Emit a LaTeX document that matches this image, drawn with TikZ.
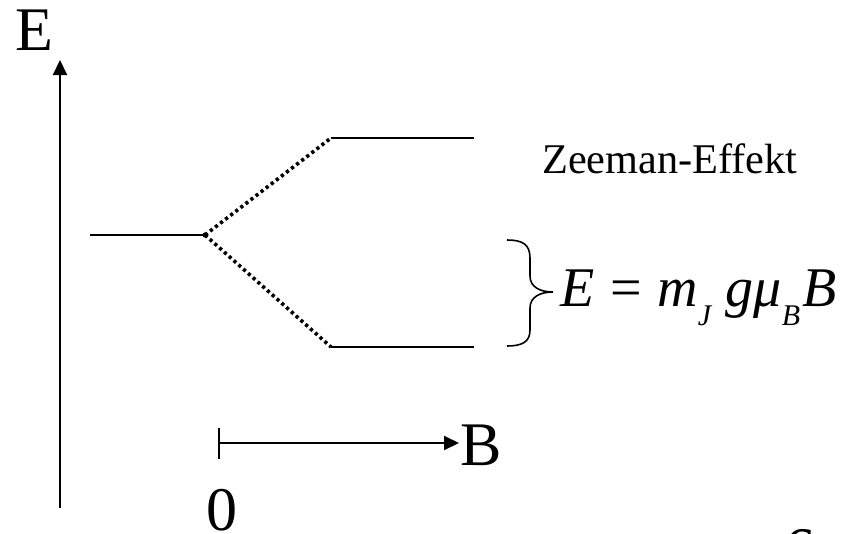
\documentclass[tikz,border=0pt]{standalone}
\usepackage{fontspec}
\setmainfont{Liberation Serif}
\usetikzlibrary{arrows.meta}
\begin{document}
\begin{tikzpicture}[x=1pt,y=-1pt,
  axis/.style={line width=2pt,-{Triangle[length=15pt,width=14pt]}},
  level/.style={line width=2pt},
  dotline/.style={line width=3.6pt,dash pattern=on 3.2pt off 3.2pt},
  big/.style={font=\fontsize{62}{62}\selectfont,inner sep=0pt}]
\useasboundingbox (0,0) rectangle (851,533);
% axes
\coordinate (ebot) at (60,508);
\coordinate (etop) at (60,60);
\draw[axis] (ebot) -- (etop);
\node[big,anchor=base] (elabel) at (34,50) {E};
\coordinate (b0) at (218,443);
\coordinate (b1) at (459,443);
\draw[axis,{Bar[width=31pt,line width=2pt]}-{Triangle[length=15pt,width=14pt]}] (b0) -- (b1);
\node[big,anchor=base west] (blabel) at (460,465) {B};
\node[big,anchor=base] (zero) at (222,530) {0};
\node[big,anchor=base] (six) at (800,570) {6};
% levels
\coordinate (l0a) at (90,235);
\coordinate (l0b) at (205,235);
\coordinate (lua) at (331,138);
\coordinate (lub) at (474,138);
\coordinate (lla) at (331,347);
\coordinate (llb) at (474,347);
\draw[level] (l0a) -- (l0b);
\draw[level] (lua) -- (lub);
\draw[level] (lla) -- (llb);
\fill (l0b) circle (2.6pt);
\draw[dotline] (l0b) -- (lua);
\draw[dotline] (l0b) -- (lla);
% label
\node[font=\fontsize{42.3}{42.3}\selectfont,inner sep=0pt,anchor=base west] (zee) at (542,173) {Zeeman-Effekt};
% brace
\coordinate (brtop) at (507,240);
\coordinate (brtip) at (553,292);
\coordinate (brbot) at (507,346);
\draw[line width=1.6pt] (brtop) .. controls (522,240) and (530,244) .. (530,258)
  -- (530,276) .. controls (530,287) and (540,292) .. (brtip)
  .. controls (540,292) and (530,297) .. (530,308)
  -- (530,330) .. controls (530,342) and (522,346) .. (brbot);
\newcommand{\mysub}[1]{\raisebox{-0.34em}{\fontsize{30}{30}\selectfont #1}}
\node[font=\fontsize{56}{56}\selectfont\itshape,inner sep=0pt,anchor=base west] (formula) at (560,306)
  {E\hspace{0.28em}{\upshape=}\hspace{0.28em}m\mysub{J}\hspace{0.26em}gμ\mysub{B}\hspace{0.04em}B};
\end{tikzpicture}
\end{document}
